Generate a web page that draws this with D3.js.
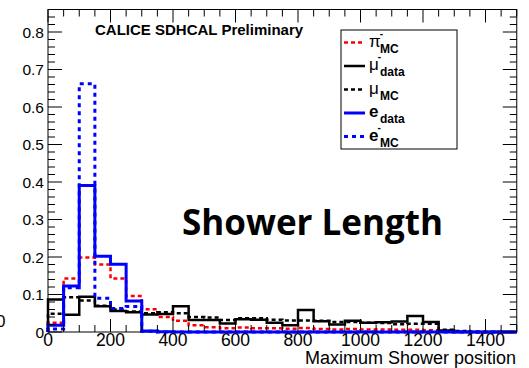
<!DOCTYPE html>
<html>
<head>
<meta charset="utf-8">
<script src="https://cdn.jsdelivr.net/npm/d3@7"></script>
<style>
html,body{margin:0;padding:0;background:#fff;}
svg{display:block;font-family:"Liberation Sans",Arial,Helvetica,sans-serif;}
</style>
</head>
<body>
<svg id="chart" width="529" height="368"></svg>
<script>
// ---- data (bins of width 50 from 0 to 1500) ----
const binEdges = d3.range(0, 1501, 50);
const piMC   = [0.025,0.143,0.199,0.180,0.143,0.096,0.061,0.040,0.030,0.018,0.013,0.010,0.012,0.010,0.010,0.009,0.011,0.008,0.007,0.008,0.007,0.007,0.006,0.006,0.005,0.003,0.001,0,0,0];
const muData = [0.087,0.046,0.094,0.069,0.056,0.053,0.047,0.048,0.069,0.032,0.032,0.023,0.034,0.033,0.025,0.018,0.059,0.029,0.020,0.030,0.025,0.026,0.028,0.043,0.027,0.004,0,0,0,0];
const muMC   = [0.049,0.093,0.084,0.070,0.060,0.055,0.050,0.053,0.050,0.040,0.039,0.032,0.037,0.037,0.033,0.031,0.031,0.030,0.027,0.027,0.025,0.024,0.021,0.022,0.022,0.006,0.003,0,0,0];
const eData  = [0.018,0.123,0.391,0.202,0.181,0.083,0.003,0.001,0,0,0,0,0,0,0,0,0,0,0,0,0,0,0,0,0,0,0,0,0,0];
const eMC    = [0.008,0.118,0.662,0.090,0.063,0.068,0.002,0,0,0,0,0,0,0,0,0,0,0,0,0,0,0,0,0,0,0,0,0,0,0];
const xTickValues = [0,200,400,600,800,1000,1200,1400];
const yTickValues = [0,0.1,0.2,0.3,0.4,0.5,0.6,0.7,0.8];
const xLabel = "Maximum Shower position";
const topText = "CALICE SDHCAL Preliminary";
const bigText = "Shower Length";

const series = [
  {values: piMC,   color: "#ff0000", dash: "4,3", width: 2.5, label: "π", sup: "-", sub: "MC", bold:false},
  {values: muData, color: "#000000", dash: null,  width: 2.5, label: "μ", sup: "-", sub: "data", bold:false},
  {values: muMC,   color: "#000000", dash: "4,3", width: 2.5, label: "μ", sup: "", sub: "MC", bold:false},
  {values: eData,  color: "#0000ff", dash: null,  width: 3,   label: "e", sup: "", sub: "data", bold:true},
  {values: eMC,    color: "#0000ff", dash: "4,4", width: 3,   label: "e", sup: "-", sub: "MC", bold:true}
];

const svg = d3.select("#chart");
const x = d3.scaleLinear().domain([0,1500]).range([48, 516.75]);
const y = d3.scaleLinear().domain([0,0.86]).range([332, 9.5]);

// frame
svg.append("rect").attr("x", x(0)).attr("y", y(0.86)).attr("width", x(1500)-x(0)).attr("height", y(0)-y(0.86))
  .attr("fill","none").attr("stroke","#000").attr("stroke-width",1);

// histograms
const line = d3.line().x(d=>d[0]).y(d=>d[1]);
series.forEach(s=>{
  const pts = [[x(0), y(0)]];
  s.values.forEach((v,i)=>{ pts.push([x(binEdges[i]), y(v)]); pts.push([x(binEdges[i+1]), y(v)]); });
  pts.push([x(1500), y(0)]);
  svg.append("path").attr("d", line(pts)).attr("fill","none").attr("stroke", s.color)
    .attr("stroke-width", s.width).attr("stroke-dasharray", s.dash).attr("stroke-linejoin","miter");
});

// ticks
const ax = svg.append("g").attr("stroke","#000").attr("stroke-width",1);
d3.range(0, 0.861, 0.02).forEach((v,i)=>{
  const major = Math.abs(v*10 - Math.round(v*10)) < 1e-6;
  const len = major ? 14 : 7;
  ax.append("line").attr("x1", x(0)).attr("x2", x(0)+len).attr("y1", y(v)).attr("y2", y(v));
  ax.append("line").attr("x1", x(1500)).attr("x2", x(1500)-len).attr("y1", y(v)).attr("y2", y(v));
});
d3.range(0, 1501, 50).forEach(v=>{
  const major = v % 200 === 0;
  const len = major ? 13 : 7;
  ax.append("line").attr("x1", x(v)).attr("x2", x(v)).attr("y1", y(0)).attr("y2", y(0)-len);
  ax.append("line").attr("x1", x(v)).attr("x2", x(v)).attr("y1", y(0.86)).attr("y2", y(0.86)+len);
});

// tick labels
svg.append("g").selectAll("text").data(yTickValues).join("text")
  .attr("x", 44).attr("y", d=>y(d)+5.5).attr("text-anchor","end").attr("font-size",15.5)
  .text(d=>d3.format(".1~f")(d));
svg.append("g").selectAll("text").data(xTickValues).join("text")
  .attr("x", d=>x(d)).attr("y", 345.5).attr("text-anchor","middle").attr("font-size",17.5)
  .text(d=>d);
// clipped stray label at far left
svg.append("text").attr("x", 5.5).attr("y", 327).attr("text-anchor","end").attr("font-size",17).text("0");

// axis title
svg.append("text").attr("x", 516).attr("y", 363.5).attr("text-anchor","end").attr("font-size",18).text(xLabel);

// top label
svg.append("text").attr("x", 95).attr("y", 35).attr("font-size",15).attr("font-weight","bold").text(topText);

// big text
svg.append("text").attr("x", 182).attr("y", 235).style("font-family","'Open Sans', 'Noto Sans', sans-serif").attr("font-size",36)
  .attr("font-weight","bold").attr("textLength",261).attr("lengthAdjust","spacingAndGlyphs").text(bigText);

// legend
const lg = svg.append("g");
lg.append("rect").attr("x",341).attr("y",30).attr("width",116).attr("height",119)
  .attr("fill","#fff").attr("stroke","#000").attr("stroke-width",1);
series.forEach((s,i)=>{
  const cy = 42.5 + i*23.5;
  lg.append("line").attr("x1",344).attr("x2",365).attr("y1",cy).attr("y2",cy)
    .attr("stroke",s.color).attr("stroke-width",s.width).attr("stroke-dasharray",s.dash);
  const t = lg.append("text").attr("x",369).attr("y",cy+4).attr("font-size",17);
  t.append("tspan").attr("font-weight", s.bold ? "bold":"normal").text(s.label);
  if (s.sup) t.append("tspan").attr("dx",-1).attr("dy",-10).attr("font-size",10).attr("font-weight","bold").text(s.sup);
  t.append("tspan").attr("x",380).attr("y",cy+10).attr("font-size",12).attr("font-weight","bold").text(s.sub);
});
</script>
</body>
</html>
